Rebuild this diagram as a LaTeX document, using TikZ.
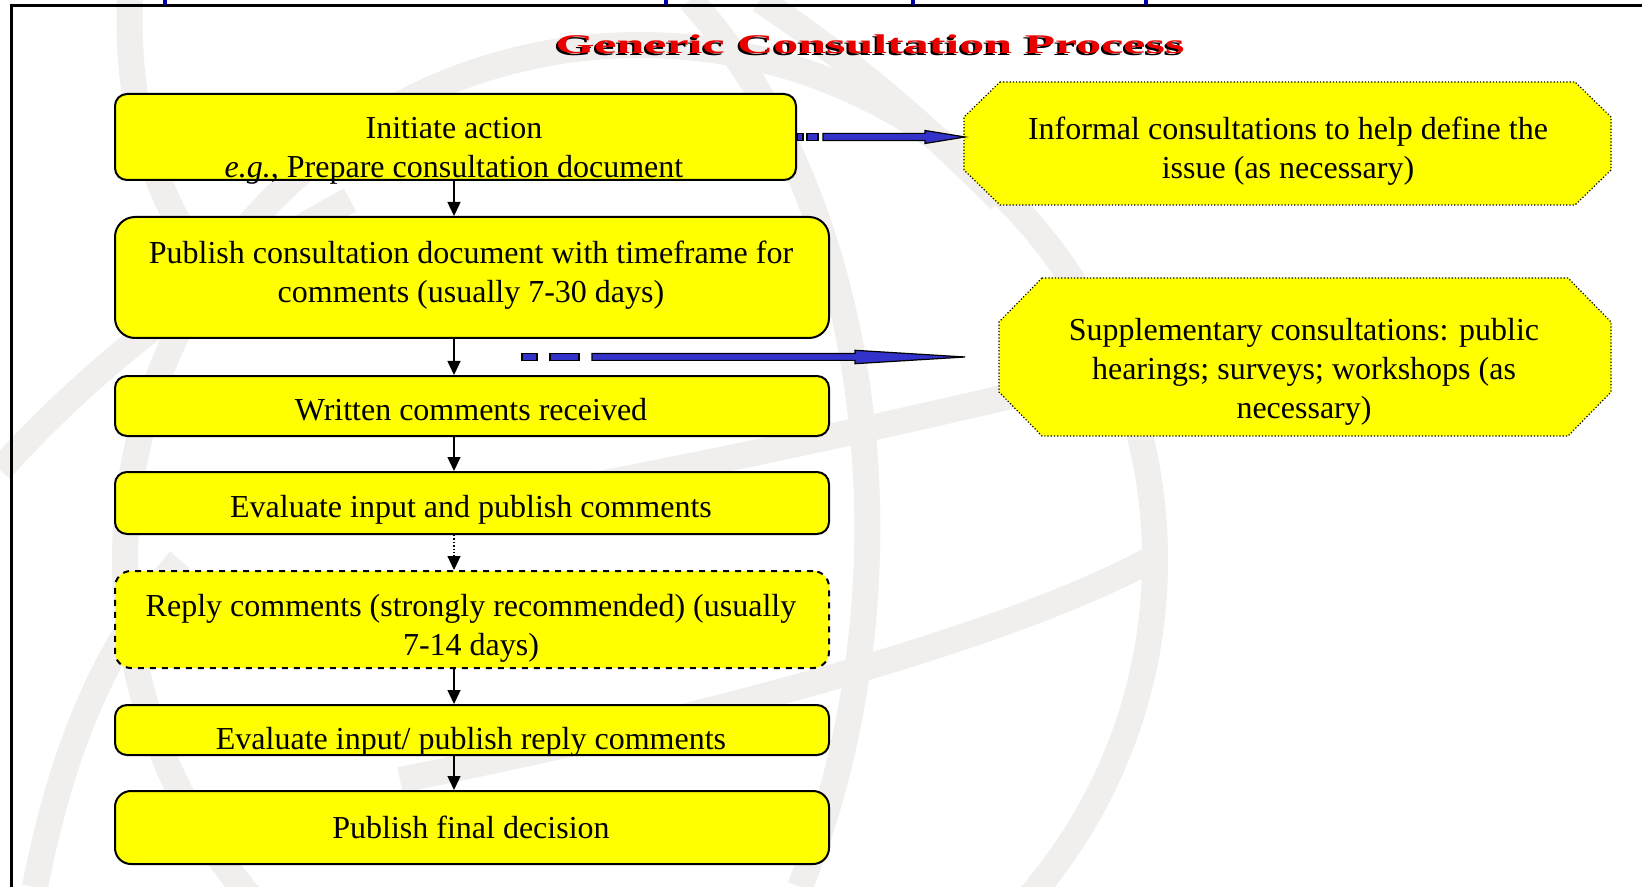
\documentclass[tikz,border=0pt]{standalone}
\usepackage{fontspec}
\setmainfont{Liberation Serif}
\usetikzlibrary{arrows.meta,calc}
\definecolor{ylw}{RGB}{255,255,0}
\definecolor{arrblue}{RGB}{51,51,204}
\definecolor{tickblue}{RGB}{0,0,160}
\definecolor{wmgray}{RGB}{240,239,237}
\definecolor{ttlred}{RGB}{235,0,0}
\begin{document}
\begin{tikzpicture}[x=0.5pt,y=-0.5pt,
  box/.style={draw=black,line width=1pt,fill=ylw,rounded corners=6pt,minimum width=357pt,inner sep=0pt},
  txt/.style={align=center,inner sep=0pt,font=\fontsize{16pt}{19.5pt}\selectfont},
  octo/.style={draw=black,densely dotted,line width=0.6pt,fill=ylw},
  varr/.style={draw=black,line width=0.7pt,-{Triangle[length=7pt,width=6.5pt]}},
  barrow/.style={fill=arrblue,draw=black,line width=0.6pt,line join=miter},
  wm/.style={draw=wmgray,line width=13pt},
  ttl/.style={inner sep=0pt,font=\fontsize{13.5pt}{16pt}\selectfont\bfseries}
]
\useasboundingbox (0,0) rectangle (1642,887);
\fill[white] (0,0) rectangle (1642,887);
% watermark
\draw[wm] (640,560) circle [radius=515];
\draw[wm] (690,0) .. controls (860,180) and (930,560) .. (800,887);
\draw[wm] (130,0) .. controls (125,120) and (160,230) .. (260,330);
\draw[wm] (0,470) .. controls (80,380) and (200,280) .. (350,200);
\draw[wm] (400,520) .. controls (700,470) and (1000,400) .. (1160,360);
\draw[wm] (400,780) .. controls (700,720) and (1000,640) .. (1150,560);
\draw[wm] (35,887) .. controls (60,760) and (100,650) .. (180,560);
\draw[wm] (760,0) .. controls (850,60) and (920,120) .. (1000,200);
% frame
\draw[black,line width=1.5pt] (10,6) -- (1642,6);
\draw[black,line width=1.5pt] (11.5,6) -- (11.5,887);
\foreach \tx in {165,666,913,1146}{\fill[tickblue] (\tx-2,0) rectangle (\tx+2,5);}
% title
\node[ttl,text=black] (titleshadow) at (868,46) {\scalebox{1.85}[1]{Generic Consultation Process}};
\node[ttl,text=ttlred] (title) at (870,44) {\scalebox{1.85}[1]{Generic Consultation Process}};
% flow boxes
\node[box,minimum width=340.5pt,minimum height=43pt] (b1) at (455.5,137) {};
\node[box,minimum height=60.5pt,rounded corners=10pt] (b2) at (472,277.5) {};
\node[box,minimum height=30pt] (b3) at (472,406) {};
\node[box,minimum height=31pt] (b4) at (472,503) {};
\node[box,minimum height=48.5pt,dashed,rounded corners=8pt] (b5) at (472,619.5) {};
\node[box,minimum height=25pt] (b6) at (472,730) {};
\node[box,minimum height=36.5pt,rounded corners=8pt] (b7) at (472,827.5) {};
\node[txt] (t1) at (454,151) {Initiate action\\\textit{e.g.}, Prepare consultation document};
\node[txt] (t2) at (471,275) {Publish consultation document with timeframe for\\comments (usually 7-30 days)};
\node[txt] (t3) at (471,410) {Written comments received};
\node[txt] (t4) at (471,510) {Evaluate input and publish comments};
\node[txt] (t5) at (471,628) {Reply comments (strongly recommended) (usually\\7-14 days)};
\node[txt] (t6) at (471,742) {Evaluate input/ publish reply comments};
\node[txt] (t7) at (471,827) {Publish final decision};
% octagons
\draw[octo] (1000,82) -- (1575,82) -- (1611,117) -- (1611,170) -- (1575,205) -- (1000,205) -- (964,170) -- (964,117) -- cycle;
\node[txt] (o1) at (1288,151) {Informal consultations to help define the\\issue (as necessary)};
\draw[octo] (1042,278) -- (1568,278) -- (1611,322) -- (1611,392) -- (1568,436) -- (1042,436) -- (999,392) -- (999,322) -- cycle;
\node[txt] (o2) at (1304,372) {Supplementary consultations: public\\hearings; surveys; workshops (as\\necessary)};
% vertical arrows
\coordinate (ax) at (454,0);
\draw[varr] (ax |- b1.south) -- (ax |- b2.north);
\draw[varr] (ax |- b2.south) -- (ax |- b3.north);
\draw[varr] (ax |- b3.south) -- (ax |- b4.north);
\draw[varr,densely dotted] (ax |- b4.south) -- (ax |- b5.north);
\draw[varr] (ax |- b5.south) -- (ax |- b6.north);
\draw[varr] (ax |- b6.south) -- (ax |- b7.north);
% block arrow 1
\coordinate (a1s) at (b1.east);
\coordinate (a1e) at (965,137);
\filldraw[barrow] ($(a1s)+(0,-3.6)$) rectangle ($(a1s)+(6,3.6)$);
\filldraw[barrow] ($(a1s)+(10,-3.6)$) rectangle ($(a1s)+(21,3.6)$);
\filldraw[barrow] ($(a1s)+(26,-3.6)$) -- ($(a1s)+(128,-3.6)$) -- ($(a1s)+(128,-6.5)$) -- (a1e) -- ($(a1s)+(128,6.5)$) -- ($(a1s)+(128,3.6)$) -- ($(a1s)+(26,3.6)$) -- cycle;
% block arrow 2
\coordinate (a2s) at (522,357);
\coordinate (a2e) at (965,357);
\filldraw[barrow] ($(a2s)+(0,-3.4)$) rectangle ($(a2s)+(15,3.4)$);
\filldraw[barrow] ($(a2s)+(28,-3.4)$) rectangle ($(a2s)+(57,3.4)$);
\filldraw[barrow] ($(a2s)+(70,-3.4)$) -- ($(a2s)+(333,-3.4)$) -- ($(a2s)+(333,-6.7)$) -- (a2e) -- ($(a2s)+(333,6.7)$) -- ($(a2s)+(333,3.4)$) -- ($(a2s)+(70,3.4)$) -- cycle;
\end{tikzpicture}
\end{document}
